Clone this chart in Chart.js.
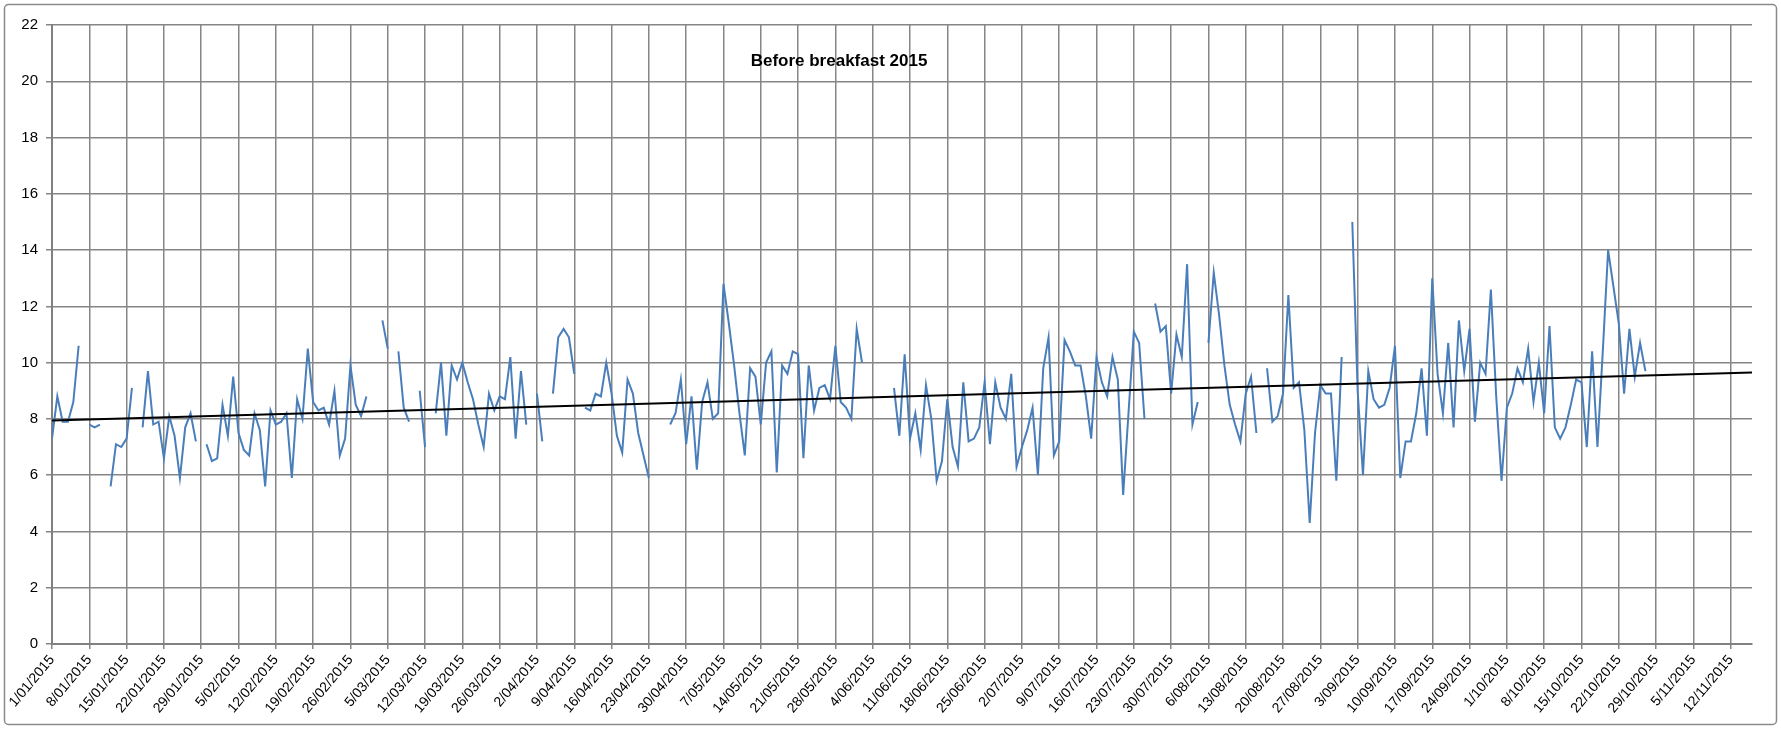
<!DOCTYPE html>
<html>
<head>
<meta charset="utf-8">
<title>Before breakfast 2015</title>
<script src="https://cdn.jsdelivr.net/npm/chart.js@4.4.1/dist/chart.umd.min.js"></script>
<style>
  html, body { margin: 0; padding: 0; background: #fff; }
  #wrap { position: relative; width: 1781px; height: 729px; }
</style>
</head>
<body>
<div id="wrap"><canvas id="myChart"></canvas></div>
<script>
// readings, one per day from 1/01/2015 (null = no reading that day)
var values = [
  7.3, 8.8, 7.9, 7.9, 8.6, 10.6, null,
  7.8, 7.7, 7.8, null, 5.6, 7.1, 7.0,
  7.3, 9.1, null, 7.7, 9.7, 7.8, 7.9,
  6.6, 8.1, 7.4, 5.9, 7.7, 8.2, 7.2,
  null, 7.1, 6.5, 6.6, 8.5, 7.4, 9.5,
  7.5, 6.9, 6.7, 8.2, 7.6, 5.6, 8.3,
  7.8, 7.9, 8.2, 5.9, 8.7, 8.0, 10.5,
  8.6, 8.3, 8.4, 7.8, 9.0, 6.7, 7.3,
  9.9, 8.5, 8.1, 8.8, null, null, 11.5,
  10.5, null, 10.4, 8.4, 7.9, null, 9.0,
  7.0, null, 8.2, 10.0, 7.4, 9.9, 9.4,
  10.0, 9.3, 8.7, 7.8, 7.0, 8.9, 8.3,
  8.8, 8.7, 10.2, 7.3, 9.7, 7.8, null,
  8.9, 7.2, null, 8.9, 10.9, 11.2, 10.9,
  9.6, null, 8.4, 8.3, 8.9, 8.8, 10.0,
  8.9, 7.4, 6.8, 9.4, 8.9, 7.5, 6.7,
  5.9, null, null, null, 7.8, 8.2, 9.4,
  7.1, 8.8, 6.2, 8.6, 9.3, 8.0, 8.2,
  12.8, 11.4, 9.9, 8.2, 6.7, 9.8, 9.5,
  7.8, 10.0, 10.4, 6.1, 9.9, 9.6, 10.4,
  10.3, 6.6, 9.9, 8.3, 9.1, 9.2, 8.7,
  10.6, 8.6, 8.4, 8.0, 11.2, 10.0, null,
  null, null, null, null, 9.1, 7.4, 10.3,
  7.3, 8.2, 6.9, 9.2, 8.0, 5.8, 6.5,
  8.7, 7.0, 6.3, 9.3, 7.2, 7.3, 7.7,
  9.3, 7.1, 9.3, 8.4, 8.0, 9.6, 6.3,
  7.0, 7.6, 8.4, 6.0, 9.8, 10.9, 6.7,
  7.2, 10.8, 10.4, 9.9, 9.9, 8.8, 7.3,
  10.2, 9.3, 8.8, 10.2, 9.4, 5.3, 8.2,
  11.1, 10.7, 8.0, null, 12.1, 11.1, 11.3,
  8.9, 11.0, 10.2, 13.5, 7.8, 8.6, null,
  10.7, 13.2, 11.7, 9.9, 8.5, 7.8, 7.2,
  8.9, 9.5, 7.5, null, 9.8, 7.9, 8.1,
  8.9, 12.4, 9.1, 9.3, 7.6, 4.3, 7.5,
  9.2, 8.9, 8.9, 5.8, 10.2, null, 15.0,
  9.0, 6.0, 9.7, 8.7, 8.4, 8.5, 9.1,
  10.6, 5.9, 7.2, 7.2, 8.2, 9.8, 7.4,
  13.0, 9.6, 8.2, 10.7, 7.7, 11.5, 9.7,
  11.2, 7.9, 10.0, 9.6, 12.6, 8.8, 5.8,
  8.4, 8.9, 9.8, 9.3, 10.5, 8.6, 10.0,
  8.2, 11.3, 7.7, 7.3, 7.7, 8.5, 9.4,
  9.3, 7.0, 10.4, 7.0, 10.4, 14.0, 12.7,
  11.4, 8.9, 11.2, 9.5, 10.7, 9.7
];

var tickLabels = [
  "1/01/2015","8/01/2015","15/01/2015","22/01/2015","29/01/2015",
  "5/02/2015","12/02/2015","19/02/2015","26/02/2015",
  "5/03/2015","12/03/2015","19/03/2015","26/03/2015",
  "2/04/2015","9/04/2015","16/04/2015","23/04/2015","30/04/2015",
  "7/05/2015","14/05/2015","21/05/2015","28/05/2015",
  "4/06/2015","11/06/2015","18/06/2015","25/06/2015",
  "2/07/2015","9/07/2015","16/07/2015","23/07/2015","30/07/2015",
  "6/08/2015","13/08/2015","20/08/2015","27/08/2015",
  "3/09/2015","10/09/2015","17/09/2015","24/09/2015",
  "1/10/2015","8/10/2015","15/10/2015","22/10/2015","29/10/2015",
  "5/11/2015","12/11/2015"
];

// linear trend line, ends (day, value)
var trendDays = [0, 319];
var trendValues = [7.94, 9.65];

var lastDay = 319;

var points = values.map(function(v, i) { return {x: i, y: v}; });
var trend = trendDays.map(function(d, i) { return {x: d, y: trendValues[i]}; });

var frame = {
  id: 'frame',
  afterDraw: function(chart) {
    var ctx = chart.ctx;
    ctx.save();
    ctx.strokeStyle = '#8a8a8a';
    ctx.lineWidth = 1.5;
    ctx.beginPath();
    ctx.roundRect(4.5, 4.5, chart.width - 9, chart.height - 9, 4);
    ctx.stroke();
    ctx.fillStyle = '#000';
    ctx.font = 'bold 17px "Liberation Sans", Arial, sans-serif';
    ctx.textAlign = 'center';
    ctx.textBaseline = 'middle';
    ctx.fillText('Before breakfast 2015', 839, 61);
    ctx.restore();
  }
};

var axisFont = {family: '"Liberation Sans Narrow", "Liberation Sans", sans-serif', size: 13};

var myChart = new Chart("myChart", {
  type: "line",
  data: {
    datasets: [{
      data: trend,
      borderColor: "#000000",
      borderWidth: 2,
      pointRadius: 0,
      fill: false
    }, {
      data: points,
      borderColor: "#4a7ebb",
      borderWidth: 2,
      pointRadius: 0,
      fill: false,
      spanGaps: false,
      lineTension: 0
    }]
  },
  options: {
    responsive: true,
    maintainAspectRatio: false,
    animation: false,
    layout: {padding: {left: 10, right: 29, top: 25, bottom: 8}},
    plugins: {
      legend: {display: false},
      tooltip: {enabled: false}
    },
    scales: {
      x: {
        type: 'linear',
        min: 0,
        max: lastDay,
        afterBuildTicks: function(axis) {
          axis.ticks = tickLabels.map(function(l, i) { return {value: i * 7}; });
        },
        afterFit: function(scale) { scale.height = 77; },
        ticks: {
          autoSkip: false,
          minRotation: 50,
          maxRotation: 50,
          padding: 3,
          color: '#000',
          font: {family: axisFont.family, size: 14},
          callback: function(v) { return tickLabels[Math.round(v / 7)]; }
        },
        grid: {color: '#868686', lineWidth: 1.5, tickLength: 5},
        border: {color: '#808080', width: 2}
      },
      y: {
        min: 0,
        max: 22,
        afterFit: function(scale) { scale.width = 42; },
        ticks: {
          stepSize: 2,
          padding: 8,
          color: '#000',
          font: {family: axisFont.family, size: 15}
        },
        grid: {color: '#868686', lineWidth: 1.5, tickLength: 6},
        border: {color: '#808080', width: 2}
      }
    }
  },
  plugins: [frame]
});
</script>
</body>
</html>
